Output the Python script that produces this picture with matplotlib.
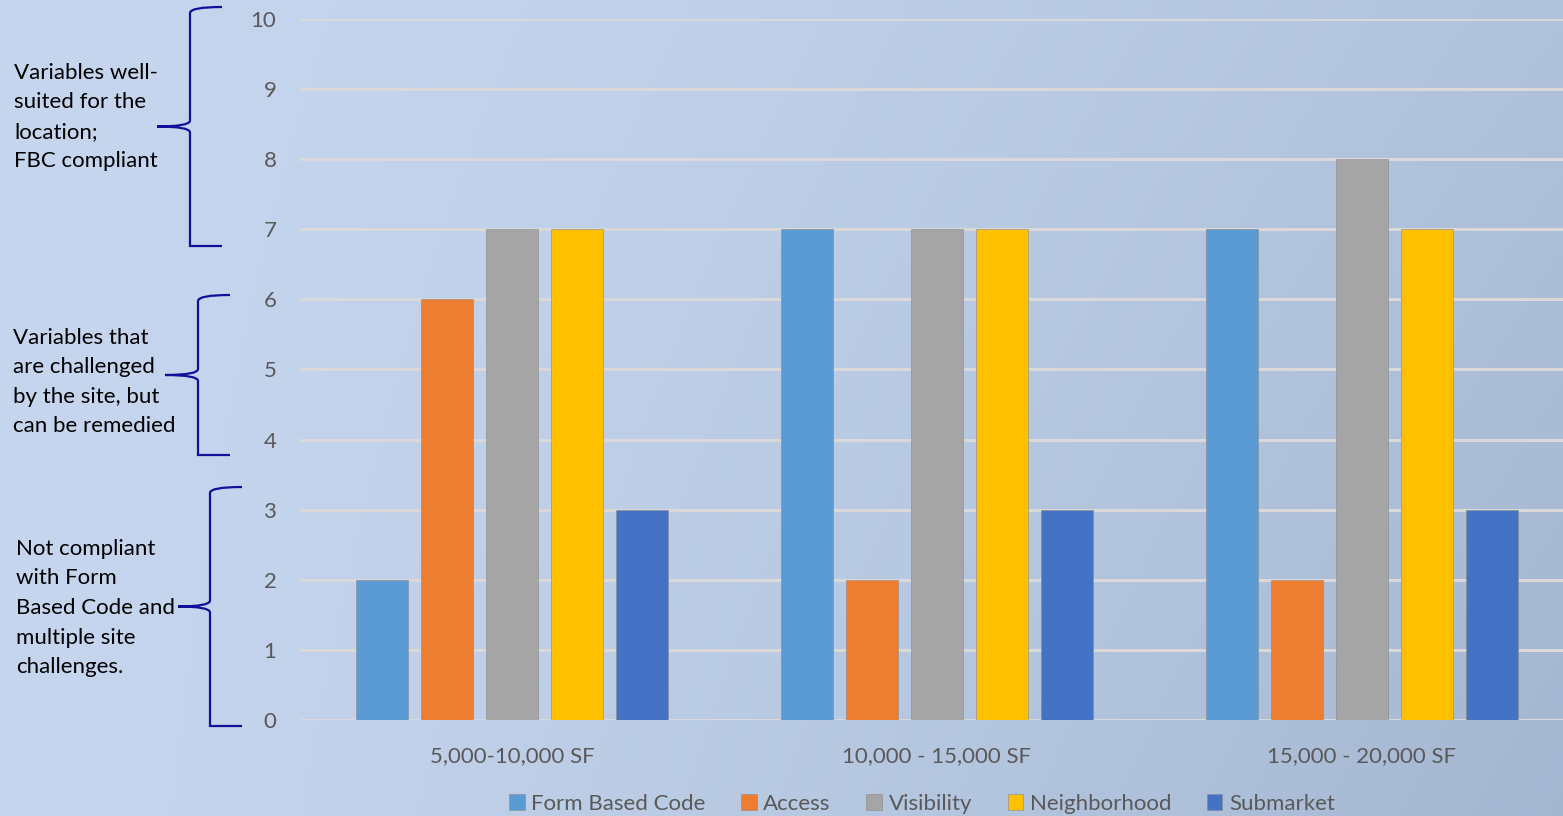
import numpy as np
import matplotlib.pyplot as plt
from matplotlib.path import Path
from matplotlib.patches import PathPatch

# data
categories = ['5,000-10,000 SF', '10,000 - 15,000 SF', '15,000 - 20,000 SF']
series = ['Form Based Code', 'Access', 'Visibility', 'Neighborhood', 'Submarket']
form_based_code = [2, 7, 7]
access = [6, 2, 2]
visibility = [7, 7, 8]
neighborhood = [7, 7, 7]
submarket = [3, 3, 3]
colors = ['#5b9bd5', '#ed7d31', '#a5a5a5', '#ffc000', '#4472c4']

notes = [
    'Variables well-\nsuited for the\nlocation;\nFBC compliant',
    'Variables that\nare challenged\nby the site, but\ncan be remedied',
    'Not compliant\nwith Form\nBased Code and\nmultiple site\nchallenges.',
]

plt.rcParams['font.family'] = ['Lato', 'DejaVu Sans']

W, H = 1563, 816
fig = plt.figure(figsize=(W / 100, H / 100), dpi=100)

# background gradient + annotations, in pixel coordinates
bg = fig.add_axes([0, 0, 1, 1], zorder=-1)
bg.set_xlim(0, W)
bg.set_ylim(H, 0)
bg.axis('off')
xx, yy = np.meshgrid(np.linspace(0, 1, 200), np.linspace(0, 1, 100))
t = np.clip(0.6 * xx ** 1.5 + 0.35 * yy * xx, 0, 1)
c0 = np.array([0xc6, 0xd6, 0xee]) / 255
c1 = np.array([0xa2, 0xb4, 0xcf]) / 255
img = c0[None, None, :] * (1 - t[..., None]) + c1[None, None, :] * t[..., None]
bg.imshow(img, extent=[0, W, H, 0], aspect='auto', interpolation='bicubic')


def brace(ax, x, y0, y1, tip, end):
    ym = (y0 + y1) / 2
    verts = [(end, y0), (x, y0), (x, y0 + 6), (x, y0 + 10),
             (x, ym - 6), (x, ym), (tip, ym),
             (x, ym), (x, ym + 6), (x, y1 - 10),
             (x, y1 - 6), (x, y1), (end, y1)]
    codes = [Path.MOVETO, Path.CURVE3, Path.CURVE3, Path.LINETO,
             Path.LINETO, Path.CURVE3, Path.CURVE3,
             Path.CURVE3, Path.CURVE3, Path.LINETO,
             Path.CURVE3, Path.CURVE3, Path.LINETO]
    ax.add_patch(PathPatch(Path(verts, codes), fill=False, edgecolor='#10109a', lw=1.6))


brace(bg, 190, 7, 246, 157, 222)
brace(bg, 198, 295, 455, 165, 230)
brace(bg, 210, 487, 726, 178, 242)

note_style = dict(fontsize=16, va='center', ha='left', linespacing=1.6, color='black')
bg.text(14, 117, notes[0], **note_style)
bg.text(13, 382, notes[1], **note_style)
bg.text(16, 608, notes[2], **note_style)

# chart
ax = fig.add_axes([300 / W, 1 - 720 / H, (1574 - 300) / W, (720 - 19) / H])
ax.patch.set_alpha(0)
x = np.arange(len(categories))
width = 0.122
step = 0.153
values = [form_based_code, access, visibility, neighborhood, submarket]
for i, (name, vals) in enumerate(zip(series, values)):
    ax.bar(x + (i - 2) * step, vals, width, color=colors[i], label=name,
           edgecolor='#8a8a8a', linewidth=0.4, zorder=3)

ax.set_xlim(-0.5, 2.5)
ax.set_ylim(0, 10)
ax.set_yticks(range(0, 11))
ax.set_xticks(x)
ax.set_xticklabels(categories)
ax.yaxis.grid(True, color='#d9d9d9', lw=2.2, zorder=0)
ax.set_axisbelow(True)
for s in ax.spines.values():
    s.set_visible(False)
ax.tick_params(length=0, colors='#595959', labelsize=16)
ax.tick_params(axis='y', pad=17)
ax.tick_params(axis='x', pad=19)

fig.legend(loc='center', bbox_to_anchor=(922 / W, 1 - 804 / H), ncol=5, frameon=False,
           fontsize=16, labelcolor='#595959', handlelength=0.7, handleheight=0.7,
           handletextpad=0.3, columnspacing=1.6)

fig.savefig('out.png', dpi=100)
